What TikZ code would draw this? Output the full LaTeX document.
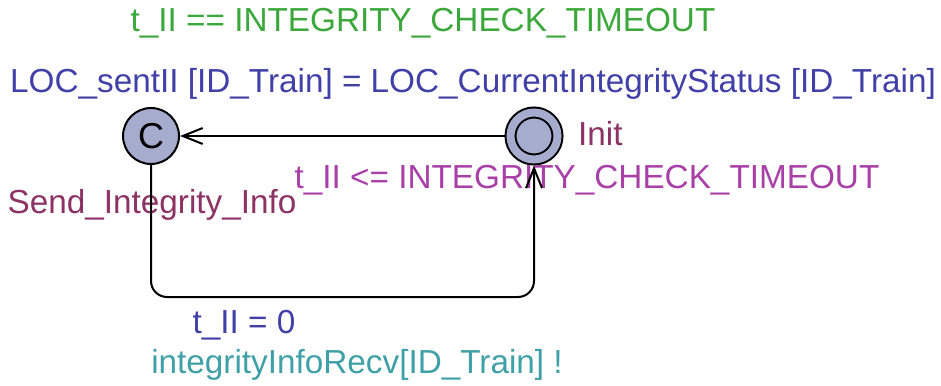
\documentclass[tikz,border=0pt]{standalone}
\usepackage{fontspec}
\setmainfont{Liberation Sans}
\usetikzlibrary{automata, positioning, arrows.meta}
\definecolor{locfill}{RGB}{166,172,206}
\definecolor{guardcol}{RGB}{60,168,60}
\definecolor{assigncol}{RGB}{64,64,168}
\definecolor{synccol}{RGB}{64,160,168}
\definecolor{invcol}{RGB}{168,64,168}
\definecolor{namecol}{RGB}{140,50,100}
\tikzset{
  >={Straight Barb[length=20pt, width=16pt]},
  node distance=383pt,
  every state/.style={draw, line width=2pt, fill=locfill, inner sep=0pt},
  committed/.style={minimum size=56pt, outer sep=1pt, font=\fontsize{36pt}{38pt}\selectfont},
  initloc/.style={minimum size=47pt, double=locfill, double distance=8pt, outer sep=6pt},
  trans/.style={->, line width=2pt, rounded corners=16pt},
  lbl/.style={inner sep=0pt, font=\fontsize{33.3pt}{40pt}\selectfont},
  guard/.style={lbl, text=guardcol},
  assign/.style={lbl, text=assigncol},
  sync/.style={lbl, text=synccol},
  inv/.style={lbl, text=invcol},
  locname/.style={lbl, text=namecol},
}

\begin{document}
\begin{tikzpicture}[x=1pt, y=-1pt]
      \useasboundingbox (0,0) rectangle (941,385);
      \node[state, committed] (send) at (151,136) {C};
      \node[state, initloc, right of=send] (init) {};
      \node[locname, anchor=base west] (initname) at (578,145) {Init};
      \node[inv, anchor=base] (initinv) at (587,188) {t\_II <= INTEGRITY\_CHECK\_TIMEOUT};
      \node[locname, anchor=base] (sendname) at (152,213) {Send\_Integrity\_Info};
      \node[guard, anchor=base] (g1) at (423,32) {t\_II == INTEGRITY\_CHECK\_TIMEOUT};
      \node[assign, anchor=base] (a1) at (473,93) {LOC\_sentII [ID\_Train] = LOC\_CurrentIntegrityStatus [ID\_Train]};
      \node[assign, anchor=base] (a2) at (244,333) {t\_II = 0};
      \node[sync, anchor=base] (s2) at (357,373) {integrityInfoRecv[ID\_Train] !};
      \coordinate (bottom) at (340,297);
      \draw[trans] (init) -- (send);
      \draw[trans] (send.south) |- (bottom) -| (init.south);
    \end{tikzpicture}
\end{document}
